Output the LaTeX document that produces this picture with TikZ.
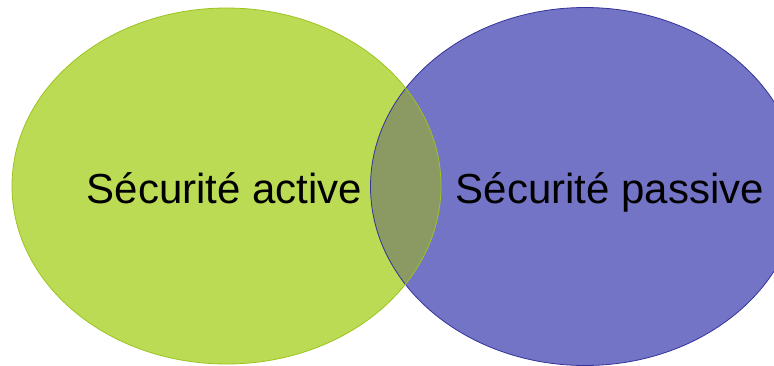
\documentclass[tikz,border=0pt]{standalone}
\usepackage{fontspec}
\setmainfont{Liberation Sans}
\definecolor{activefill}{HTML}{BCDB55}
\definecolor{activeedge}{HTML}{9CC41E}
\definecolor{passivefill}{HTML}{7474C6}
\definecolor{passiveedge}{HTML}{34349A}
\definecolor{overlapfill}{HTML}{8A9A62}
\tikzset{
  setlabel/.style={anchor=base, inner sep=0pt, text=black,
    font=\fontsize{42}{50}\selectfont},
  rim/.style={line width=0.8pt}
}
\begin{document}
\begin{tikzpicture}[x=1pt, y=-1pt]
  \useasboundingbox (0,0) rectangle (774,365);
  % the two sets
  \fill[activefill] (226.5,186) ellipse [x radius=214.5, y radius=178];
  \fill[passivefill] (585,186.5) ellipse [x radius=214.5, y radius=179];
  % their intersection
  \begin{scope}
    \clip (226.5,186) ellipse [x radius=214.5, y radius=178];
    \fill[overlapfill] (585,186.5) ellipse [x radius=214.5, y radius=179];
  \end{scope}
  % outlines
  \draw[rim, passiveedge] (585,186.5) ellipse [x radius=214.5, y radius=179];
  \draw[rim, activeedge] (226.5,186) ellipse [x radius=214.5, y radius=178];
  % labels
  \node[setlabel] (active) at (224.5,203) {Sécurité active};
  \node[setlabel] (passive) at (610,203) {Sécurité passive};
\end{tikzpicture}
\end{document}
